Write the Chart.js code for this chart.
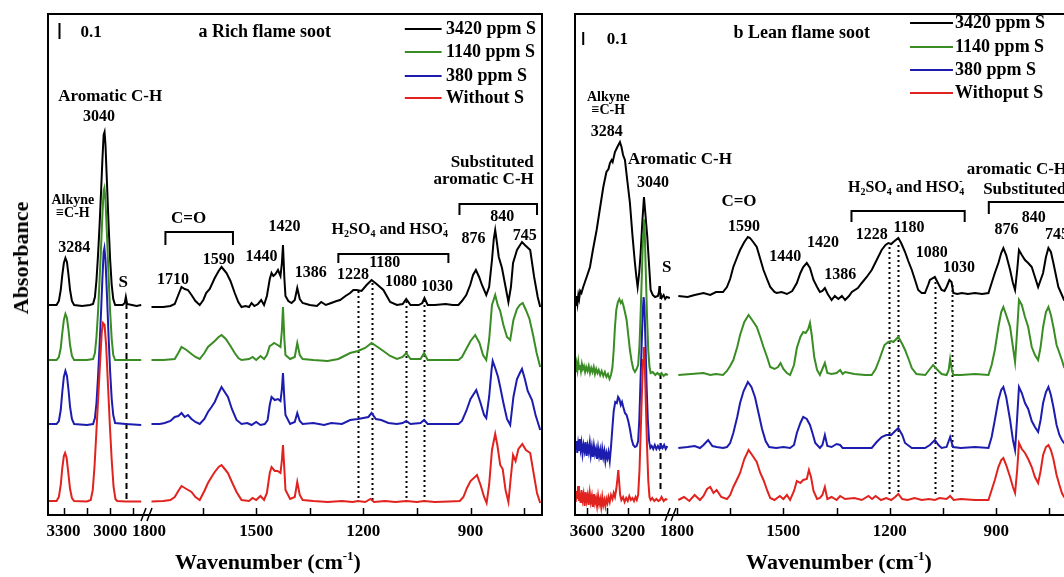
<!DOCTYPE html>
<html><head><meta charset="utf-8">
<script src="https://cdn.jsdelivr.net/npm/chart.js@4.4.1/dist/chart.umd.min.js"></script>
<style>
html,body{margin:0;padding:0;background:#fff;overflow:hidden;}
body{width:1064px;height:577px;position:relative;font-family:"Liberation Serif","Times New Roman",serif;}
canvas{position:absolute;top:0;}
.frame{position:absolute;box-sizing:border-box;border:2px solid #000;pointer-events:none;}
.xtitle{position:absolute;top:551px;font-weight:bold;font-size:22px;line-height:22px;white-space:nowrap;transform:translateX(-50%);}
.xtitle sup{font-size:13px;vertical-align:9px;line-height:0;}
.ytitle{position:absolute;left:21px;top:258px;font-weight:bold;font-size:22px;white-space:nowrap;transform:translate(-50%,-50%) rotate(-90deg);}
</style></head>
<body>
<canvas id="richHigh" width="230" height="577" style="left:0px"></canvas>
<canvas id="richLow" width="480" height="577" style="left:100px"></canvas>
<canvas id="leanHigh" width="260" height="577" style="left:520px"></canvas>
<canvas id="leanLow" width="470" height="577" style="left:620px"></canvas>
<div class="frame" style="left:47px;top:13px;width:496px;height:503px"></div>
<div class="frame" style="left:574px;top:13px;width:496px;height:503px"></div>
<div class="ytitle">Absorbance</div>
<div class="xtitle" style="left:268px">Wavenumber (cm<sup>-1</sup>)</div>
<div class="xtitle" style="left:839px">Wavenumber (cm<sup>-1</sup>)</div>
<script>
// ---------------- DATA ----------------
const seriesLabelsRich = ['3420 ppm S', '1140 ppm S', '380 ppm S', 'Without S'];
const seriesLabelsLean = ['3420 ppm S', '1140 ppm S', '380 ppm S', 'Withoput S'];

const richTicksHigh = [3300, 3150, 3000, 2850];
const richLabelsHigh = [3300, 3000];
const richTicksLow = [1800, 1650, 1500, 1350, 1200, 1050, 900, 750];
const richLabelsLow = [1800, 1500, 1200, 900];
const leanTicksHigh = [3600, 3400, 3200, 3000];
const leanLabelsHigh = [3600, 3200];
const leanTicksLow = [1800, 1650, 1500, 1350, 1200, 1050, 900, 750];
const leanLabelsLow = [1800, 1500, 1200, 900];

// (a) rich flame soot, 3400-2750 cm-1
const richHighS3420 = [[3400,21.0],[3370,21.0],[3345,21.0],[3330,21.4],[3318,22.5],[3308,24.0],[3298,25.2],[3288,25.7],[3278,25.3],[3268,24.0],[3258,22.5],[3246,21.4],[3232,21.0],[3180,20.9],[3130,21.0],[3110,21.1],[3098,21.8],[3088,23.5],[3078,26.0],[3068,29.0],[3058,32.5],[3050,35.5],[3042,38.0],[3036,38.3],[3030,37.0],[3020,33.0],[3010,29.0],[3000,25.5],[2990,23.0],[2980,21.6],[2968,21.0],[2920,21.0],[2906,21.2],[2899,21.8],[2891,21.1],[2860,21.0],[2830,20.9],[2800,21.0]];
const richHighS1140 = [[3400,15.5],[3360,15.5],[3345,15.5],[3330,15.8],[3318,16.7],[3308,18.2],[3298,19.5],[3288,20.1],[3278,19.7],[3268,18.5],[3258,17.0],[3246,15.9],[3232,15.5],[3150,15.5],[3110,15.6],[3098,16.2],[3088,17.8],[3078,20.3],[3068,23.5],[3058,27.0],[3050,30.0],[3042,32.4],[3037,32.7],[3030,31.5],[3020,27.8],[3010,23.8],[3000,20.3],[2990,17.6],[2980,16.0],[2968,15.5],[2900,15.5],[2800,15.5]];
const richHighS380 = [[3400,9.1],[3360,9.1],[3345,9.1],[3330,9.4],[3318,10.5],[3308,12.3],[3298,13.8],[3288,14.4],[3278,13.9],[3268,12.5],[3258,10.8],[3246,9.6],[3232,9.1],[3150,9.0],[3110,9.1],[3098,9.7],[3088,11.2],[3078,13.8],[3068,17.0],[3058,20.5],[3050,23.6],[3042,26.3],[3037,26.7],[3030,25.5],[3020,21.8],[3010,17.8],[3000,14.3],[2990,11.6],[2980,10.0],[2968,9.2],[2900,9.1],[2800,9.0]];
const richHighS0 = [[3400,1.4],[3360,1.4],[3345,1.4],[3330,1.8],[3318,3.0],[3308,4.7],[3298,5.9],[3290,6.2],[3280,5.7],[3270,4.3],[3258,2.6],[3246,1.7],[3232,1.4],[3150,1.35],[3125,1.5],[3112,2.5],[3100,5.0],[3088,8.5],[3076,12.0],[3064,15.5],[3054,18.3],[3046,19.2],[3036,19.0],[3026,17.0],[3014,13.0],[3002,9.0],[2990,5.5],[2978,2.8],[2966,1.6],[2955,1.4],[2900,1.35],[2800,1.35]];

// (a) rich flame soot, 1800-700 cm-1
const richLowS3420 = [[1793,20.8],[1760,20.8],[1740,20.9],[1728,21.1],[1718,22.0],[1709,22.8],[1700,22.6],[1691,22.5],[1681,22.0],[1670,21.4],[1658,21.0],[1648,21.5],[1640,22.2],[1630,22.6],[1616,23.7],[1605,24.4],[1597,24.8],[1590,24.5],[1583,24.2],[1572,23.4],[1560,22.2],[1550,21.3],[1541,20.8],[1530,20.9],[1520,20.8],[1513,21.2],[1505,20.9],[1495,21.1],[1486,21.5],[1478,21.0],[1470,21.9],[1462,23.6],[1457,24.2],[1452,23.9],[1446,24.1],[1439,24.5],[1432,23.9],[1428,25.2],[1425,27.0],[1421,23.6],[1418,21.9],[1410,21.4],[1401,21.2],[1392,21.5],[1385,22.7],[1378,21.6],[1370,21.2],[1350,21.0],[1330,20.9],[1318,21.3],[1305,21.0],[1290,21.2],[1275,21.4],[1265,21.5],[1250,21.9],[1237,22.2],[1228,22.5],[1219,22.5],[1205,22.4],[1191,23.0],[1177,23.5],[1163,23.1],[1144,22.5],[1125,21.3],[1106,21.0],[1090,21.1],[1080,21.6],[1068,21.0],[1045,21.0],[1035,21.2],[1029,21.7],[1020,21.0],[1000,21.0],[970,21.1],[950,21.0],[934,21.0],[924,21.4],[912,22.0],[901,23.0],[893,24.0],[885,24.5],[876,23.8],[868,23.0],[856,22.0],[848,22.8],[840,25.5],[835,27.6],[831,28.5],[826,27.2],[821,25.8],[812,24.7],[803,23.0],[794,21.3],[787,22.8],[781,25.2],[770,26.5],[756,27.3],[748,27.0],[742,26.8],[733,26.5],[722,23.8],[712,21.8],[705,20.8]];
const richLowS1140 = [[1793,15.5],[1760,15.5],[1728,15.6],[1718,16.2],[1709,16.8],[1695,16.5],[1681,16.1],[1670,15.8],[1658,15.6],[1645,16.2],[1635,16.8],[1616,17.4],[1605,17.8],[1597,18.0],[1585,17.6],[1572,16.9],[1560,16.2],[1550,15.7],[1541,15.5],[1520,15.6],[1510,15.8],[1500,15.5],[1488,15.9],[1478,15.6],[1470,16.0],[1462,16.9],[1457,17.0],[1450,17.2],[1440,17.0],[1432,16.8],[1428,18.5],[1425,20.8],[1421,17.5],[1418,16.0],[1405,15.6],[1392,15.8],[1385,17.2],[1378,16.0],[1370,15.6],[1340,15.5],[1300,15.4],[1270,15.6],[1237,16.2],[1215,16.4],[1195,16.7],[1177,17.2],[1160,16.8],[1144,16.4],[1125,15.9],[1106,15.6],[1090,15.8],[1080,16.2],[1068,15.6],[1040,15.6],[1030,16.2],[1020,15.5],[980,15.5],[934,15.5],[924,15.8],[912,16.6],[900,17.4],[887,18.0],[875,17.2],[865,16.0],[856,15.5],[848,17.5],[840,21.0],[831,22.0],[824,21.0],[817,20.4],[808,19.0],[798,17.8],[789,17.5],[780,19.5],[770,20.6],[762,21.0],[754,21.2],[745,20.5],[735,19.6],[725,18.0],[715,16.2],[705,14.8]];
const richLowS380 = [[1793,9.1],[1770,9.1],[1756,9.2],[1740,9.4],[1728,9.8],[1718,9.9],[1709,10.2],[1700,9.8],[1691,10.0],[1681,9.6],[1670,9.3],[1658,9.1],[1645,9.6],[1635,10.3],[1625,10.8],[1616,11.3],[1605,12.2],[1597,12.8],[1588,12.3],[1579,11.8],[1568,10.6],[1555,9.5],[1541,9.1],[1525,9.2],[1513,9.0],[1500,9.3],[1488,9.0],[1476,9.1],[1468,9.5],[1462,11.0],[1457,11.8],[1448,11.5],[1439,11.6],[1432,11.4],[1428,12.6],[1425,14.2],[1421,11.5],[1418,10.0],[1405,9.1],[1392,9.3],[1385,10.2],[1378,9.4],[1370,9.1],[1340,9.2],[1310,9.0],[1290,9.2],[1260,9.1],[1237,9.5],[1215,9.6],[1200,9.7],[1186,9.8],[1177,10.2],[1165,9.6],[1150,9.5],[1130,9.2],[1106,9.1],[1090,9.2],[1080,9.4],[1068,9.1],[1040,9.2],[1030,9.5],[1020,9.1],[980,9.1],[934,9.1],[924,9.4],[912,10.4],[900,11.6],[884,12.5],[872,11.2],[862,10.0],[856,9.7],[848,11.8],[841,14.6],[838,15.4],[830,14.6],[823,13.8],[817,12.8],[808,11.2],[798,9.6],[789,9.0],[780,11.8],[770,13.6],[762,14.2],[756,14.6],[748,13.6],[740,12.4],[728,11.5],[718,10.0],[705,8.5]];
const richLowS0 = [[1793,1.35],[1760,1.4],[1740,1.5],[1728,1.8],[1718,2.4],[1709,2.9],[1695,2.6],[1681,2.3],[1670,1.8],[1658,1.5],[1645,2.4],[1635,3.2],[1625,3.8],[1616,4.3],[1605,4.8],[1597,5.0],[1588,4.6],[1579,4.2],[1568,3.3],[1555,2.3],[1541,1.5],[1520,1.4],[1510,1.7],[1500,1.5],[1488,1.9],[1478,1.5],[1470,2.2],[1462,4.2],[1457,4.8],[1448,4.4],[1440,4.4],[1432,4.2],[1428,5.5],[1425,7.0],[1421,4.5],[1418,2.5],[1405,1.6],[1392,1.8],[1385,3.3],[1378,2.0],[1370,1.5],[1340,1.4],[1300,1.3],[1260,1.4],[1230,1.3],[1215,1.4],[1195,1.3],[1180,1.6],[1170,1.3],[1140,1.4],[1110,1.3],[1080,1.4],[1050,1.3],[1030,1.4],[1000,1.3],[960,1.35],[930,1.4],[920,1.8],[910,2.7],[900,3.4],[882,4.0],[872,3.0],[862,1.8],[855,1.2],[848,3.0],[840,6.5],[831,8.1],[825,7.0],[817,5.0],[810,4.6],[802,2.5],[794,1.3],[788,3.5],[781,6.0],[774,5.4],[766,6.6],[755,7.1],[745,6.5],[733,6.2],[725,4.5],[714,2.2],[705,1.2]];

// (b) lean flame soot, 3712-2770 cm-1
const leanHighS3420 = [[3712,21.5],[3702,21.0],[3695,21.9],[3688,21.2],[3680,22.0],[3672,21.6],[3662,22.4],[3650,22.2],[3633,22.8],[3600,23.8],[3568,24.8],[3540,26.5],[3504,28.5],[3470,30.8],[3440,32.8],[3410,34.3],[3390,34.6],[3376,35.2],[3360,35.5],[3350,35.3],[3328,36.3],[3305,36.8],[3280,37.3],[3265,36.8],[3250,36.0],[3232,35.5],[3210,33.5],[3184,31.2],[3160,28.0],[3136,25.2],[3122,23.8],[3110,22.8],[3095,24.2],[3081,26.2],[3065,29.3],[3049,31.8],[3033,29.8],[3017,27.8],[3000,25.0],[2985,22.5],[2965,22.0],[2943,21.8],[2915,21.9],[2905,22.3],[2900,22.9],[2895,22.3],[2880,21.7],[2860,22.0],[2845,21.6],[2831,21.8],[2800,21.7]];
const leanHighS1140 = [[3712,14.9],[3704,14.3],[3696,15.1],[3688,14.5],[3680,15.3],[3672,14.6],[3664,15.0],[3655,14.4],[3646,15.1],[3636,14.6],[3626,14.9],[3615,14.3],[3604,14.8],[3592,14.4],[3580,14.9],[3568,14.2],[3556,14.7],[3544,14.3],[3532,14.8],[3520,14.1],[3508,14.6],[3496,14.2],[3484,14.5],[3470,14.0],[3456,14.4],[3440,13.9],[3425,14.3],[3410,13.8],[3395,14.1],[3380,13.6],[3366,14.0],[3352,14.8],[3340,16.5],[3328,18.8],[3315,20.5],[3300,21.3],[3286,21.6],[3272,21.2],[3260,21.4],[3248,21.0],[3232,20.3],[3216,19.5],[3200,18.0],[3184,16.5],[3168,15.4],[3152,14.6],[3136,14.3],[3120,14.6],[3105,15.0],[3092,17.0],[3080,20.5],[3068,24.5],[3058,28.0],[3050,29.6],[3042,28.5],[3032,24.5],[3020,20.0],[3008,16.5],[2996,14.8],[2985,14.2],[2965,14.3],[2940,14.0],[2920,14.2],[2900,14.0],[2880,14.2],[2860,13.9],[2840,14.1],[2820,14.0]];
const leanHighS380 = [[3712,7.3],[3705,6.5],[3698,7.4],[3690,6.2],[3682,7.1],[3674,6.4],[3666,7.6],[3658,6.6],[3650,7.2],[3640,6.1],[3630,7.0],[3620,6.4],[3610,7.3],[3600,5.9],[3590,6.9],[3580,6.3],[3570,7.2],[3560,6.0],[3550,6.8],[3540,5.8],[3530,6.9],[3520,6.1],[3510,6.6],[3500,5.6],[3490,6.7],[3480,5.9],[3470,6.5],[3460,5.5],[3450,6.6],[3440,5.8],[3430,6.4],[3420,5.4],[3410,6.2],[3400,5.7],[3390,6.3],[3378,5.4],[3366,6.8],[3352,8.8],[3340,10.4],[3325,11.3],[3310,11.2],[3298,11.8],[3286,11.6],[3272,11.0],[3260,11.3],[3248,10.8],[3232,10.2],[3216,10.0],[3200,9.4],[3184,8.6],[3168,7.6],[3152,7.0],[3136,6.8],[3120,6.9],[3105,7.4],[3094,9.5],[3082,13.5],[3070,17.5],[3060,20.5],[3052,21.8],[3045,21.0],[3035,17.5],[3024,13.0],[3012,9.5],[3000,7.4],[2988,6.7],[2975,6.9],[2960,6.6],[2945,7.0],[2930,6.6],[2915,6.9],[2900,6.6],[2885,7.0],[2870,6.7],[2855,7.0],[2840,6.6],[2825,6.9]];
const leanHighS0 = [[3712,2.0],[3705,1.3],[3698,2.4],[3690,1.6],[3682,2.9],[3674,1.4],[3666,2.2],[3658,1.2],[3650,2.5],[3640,1.5],[3630,2.1],[3620,0.9],[3610,2.3],[3600,1.4],[3590,2.0],[3580,1.0],[3570,2.2],[3560,1.3],[3550,1.9],[3540,0.8],[3530,2.1],[3520,1.2],[3510,1.7],[3500,0.9],[3490,1.9],[3480,1.1],[3470,1.6],[3460,0.8],[3450,1.8],[3440,1.0],[3430,1.5],[3420,0.9],[3410,1.6],[3400,1.2],[3390,1.8],[3378,1.3],[3366,2.0],[3352,1.6],[3340,2.2],[3328,1.8],[3315,2.6],[3304,3.6],[3296,4.5],[3288,3.4],[3278,2.0],[3266,1.5],[3250,1.8],[3235,1.3],[3220,1.7],[3205,1.4],[3190,1.9],[3175,1.5],[3160,1.7],[3145,1.4],[3130,1.8],[3118,1.5],[3105,2.0],[3092,4.5],[3080,8.5],[3068,12.5],[3058,15.5],[3050,16.8],[3042,15.5],[3032,11.5],[3020,7.0],[3008,3.5],[2996,1.8],[2985,1.5],[2970,1.7],[2950,1.4],[2930,1.6],[2910,1.4],[2895,1.5],[2880,1.8],[2860,1.4],[2840,1.6],[2825,1.5]];

// (b) lean flame soot, 1811-695 cm-1
const leanLowS3420 = [[1796,21.9],[1770,21.8],[1750,22.0],[1725,22.2],[1706,22.0],[1690,22.3],[1670,22.3],[1659,22.8],[1650,23.6],[1641,24.8],[1630,25.8],[1622,26.5],[1610,27.3],[1600,27.8],[1594,27.7],[1585,27.3],[1575,26.8],[1565,25.6],[1556,24.5],[1545,23.5],[1537,22.8],[1525,22.3],[1519,22.2],[1505,22.3],[1490,22.1],[1475,22.4],[1462,23.2],[1452,24.2],[1444,24.8],[1434,25.2],[1425,24.7],[1415,23.5],[1405,22.8],[1397,22.3],[1390,22.4],[1383,22.7],[1375,22.1],[1364,21.5],[1355,21.9],[1345,21.6],[1335,21.9],[1326,21.5],[1315,21.9],[1307,22.3],[1290,22.7],[1279,23.2],[1265,23.8],[1251,24.5],[1237,25.5],[1223,26.5],[1212,27.0],[1204,27.2],[1196,27.1],[1190,27.3],[1176,27.7],[1168,27.2],[1157,26.3],[1148,25.4],[1138,24.5],[1128,23.4],[1120,22.5],[1110,22.2],[1101,22.2],[1092,23.0],[1087,23.5],[1073,23.8],[1063,23.1],[1054,22.5],[1046,22.4],[1040,22.8],[1032,23.5],[1026,23.3],[1021,22.2],[1010,22.1],[997,22.2],[980,22.1],[960,22.2],[940,22.1],[922,22.2],[913,23.2],[904,24.2],[894,25.2],[886,26.2],[880,26.7],[872,26.0],[861,24.5],[853,23.2],[847,22.5],[841,24.5],[836,26.5],[828,26.0],[819,25.5],[810,25.2],[800,24.8],[791,23.8],[782,22.8],[775,23.5],[768,24.2],[760,25.8],[753,26.7],[746,26.3],[739,25.2],[732,24.0],[725,22.8],[715,22.0],[709,21.5],[695,21.3]];
const leanLowS1140 = [[1796,14.0],[1760,14.1],[1725,14.2],[1706,14.0],[1690,14.1],[1670,14.0],[1659,14.4],[1650,14.9],[1641,15.5],[1630,16.8],[1622,18.0],[1610,19.3],[1598,20.0],[1588,19.5],[1575,18.8],[1565,17.8],[1556,16.8],[1545,15.7],[1537,14.8],[1525,14.6],[1515,14.8],[1508,15.2],[1500,14.6],[1490,14.2],[1481,14.0],[1470,15.0],[1462,16.7],[1452,17.8],[1444,18.3],[1437,18.2],[1430,18.6],[1425,19.2],[1420,18.0],[1413,15.8],[1405,14.5],[1397,14.0],[1390,14.6],[1383,15.2],[1376,14.2],[1364,14.1],[1350,14.2],[1340,14.5],[1333,14.1],[1326,14.3],[1300,14.1],[1270,14.0],[1251,14.0],[1240,14.6],[1230,15.5],[1215,17.0],[1204,17.3],[1196,17.4],[1190,17.3],[1176,17.8],[1165,17.1],[1157,16.5],[1145,15.4],[1138,14.7],[1125,14.1],[1100,14.0],[1087,14.6],[1078,15.0],[1068,14.6],[1054,14.1],[1040,14.0],[1034,14.5],[1030,15.6],[1025,14.5],[1021,14.0],[1000,14.0],[960,14.1],[922,14.0],[913,15.0],[904,16.5],[894,18.8],[886,20.3],[880,20.8],[872,20.0],[861,18.8],[853,16.8],[847,15.3],[841,18.5],[836,21.5],[828,21.0],[819,19.8],[810,18.8],[800,16.8],[791,16.0],[782,15.5],[775,16.8],[768,18.8],[760,20.3],[753,20.8],[746,20.0],[739,18.8],[730,17.0],[722,16.2],[715,15.5],[709,14.8],[695,14.2]];
const leanLowS380 = [[1796,6.7],[1770,6.8],[1750,6.9],[1735,6.7],[1725,7.0],[1712,7.5],[1700,6.9],[1688,6.8],[1670,6.7],[1659,6.8],[1650,7.2],[1641,8.2],[1630,9.8],[1622,11.2],[1612,12.4],[1600,13.3],[1590,12.8],[1580,11.8],[1570,10.2],[1560,8.6],[1550,7.4],[1540,6.8],[1520,6.7],[1500,6.8],[1481,6.7],[1470,7.0],[1462,8.2],[1452,9.2],[1444,9.8],[1434,9.6],[1425,9.0],[1418,8.2],[1410,7.2],[1397,6.7],[1390,7.0],[1383,8.0],[1376,6.9],[1364,6.8],[1350,7.1],[1340,7.0],[1333,6.7],[1300,6.7],[1251,6.7],[1237,7.3],[1223,7.8],[1210,8.0],[1196,8.0],[1185,8.4],[1176,8.7],[1165,8.0],[1157,7.2],[1138,6.7],[1101,6.7],[1087,7.0],[1073,7.5],[1063,7.0],[1054,6.7],[1040,6.8],[1030,7.8],[1022,6.8],[1000,6.7],[960,6.8],[922,6.7],[913,7.8],[904,9.5],[894,11.5],[886,12.5],[880,12.8],[872,11.8],[861,9.5],[853,7.5],[847,6.5],[841,9.8],[836,12.8],[828,12.2],[819,11.2],[810,10.6],[800,9.4],[791,8.8],[782,8.3],[775,9.5],[768,11.2],[760,12.3],[753,12.8],[746,12.0],[739,10.8],[730,9.0],[722,8.0],[715,7.5],[709,7.2],[695,7.0]];
const leanLowS0 = [[1796,1.5],[1780,1.8],[1765,1.4],[1750,2.0],[1735,1.5],[1725,1.9],[1715,2.6],[1706,2.8],[1697,2.2],[1688,2.5],[1675,1.8],[1659,1.6],[1650,2.0],[1641,2.8],[1630,3.6],[1622,4.2],[1610,5.6],[1598,6.5],[1588,6.0],[1575,5.3],[1565,4.2],[1556,3.5],[1545,2.4],[1537,1.7],[1525,1.5],[1510,1.9],[1500,1.6],[1490,2.0],[1481,1.5],[1470,2.4],[1462,3.4],[1452,3.2],[1444,3.5],[1434,3.6],[1428,4.5],[1422,3.8],[1415,2.4],[1405,1.6],[1397,1.7],[1390,2.0],[1383,2.8],[1376,1.6],[1364,1.8],[1350,1.5],[1340,1.9],[1326,1.6],[1300,1.7],[1279,1.5],[1260,1.9],[1250,1.6],[1240,1.9],[1225,1.5],[1210,1.7],[1196,1.5],[1185,1.8],[1176,2.1],[1165,1.6],[1150,1.5],[1130,1.7],[1110,1.5],[1090,1.6],[1073,1.5],[1060,1.7],[1040,1.6],[1030,1.9],[1020,1.5],[1000,1.6],[960,1.5],[922,1.5],[913,2.5],[904,3.5],[894,4.8],[886,5.5],[880,5.7],[872,5.0],[861,3.8],[853,2.8],[847,2.2],[841,4.5],[836,7.2],[828,6.6],[819,6.2],[810,5.6],[800,4.8],[791,3.8],[782,3.2],[775,4.4],[768,6.0],[760,6.8],[753,7.0],[746,6.5],[739,5.6],[730,4.0],[722,3.0],[715,2.2],[709,1.8],[695,1.6]];

// ---------------- STYLE / LAYOUT ----------------
const FONT = '"Liberation Serif", "Times New Roman", serif';
const COLORS = ['#000000', '#3a8c24', '#1c1cae', '#e0231f'];
const H2SO4 = [['H'], ['2', 'sub'], ['SO'], ['4', 'sub'], [' and HSO'], ['4', 'sub'], ['-', 'sup']];

function drawRich(ctx, parts, x, y, size, align) {
  const big = 'bold ' + size + 'px ' + FONT;
  const small = 'bold ' + Math.round(size * 0.62) + 'px ' + FONT;
  let total = 0, prevStart = 0;
  const items = [];
  parts.forEach(p => {
    const t = p[0], m = p[1];
    ctx.font = m ? small : big;
    const wd = ctx.measureText(t).width;
    if (m === 'sup') { items.push({ t, m, x: prevStart }); total = Math.max(total, prevStart + wd); }
    else { items.push({ t, m, x: total }); prevStart = total; total += wd; }
  });
  const x0 = align === 'right' ? x - total : align === 'left' ? x : x - total / 2;
  ctx.textAlign = 'left';
  ctx.textBaseline = 'middle';
  ctx.fillStyle = '#000';
  items.forEach(it => {
    ctx.font = it.m ? small : big;
    const dy = it.m === 'sub' ? size * 0.3 : it.m === 'sup' ? -size * 0.38 : 0;
    ctx.fillText(it.t, x0 + it.x, y + dy);
  });
}

function makeAnnot(a) {
  return {
    id: 'annot',
    beforeDatasetsDraw(chart) {
      const ctx = chart.ctx, xs = chart.scales.x, ys = chart.scales.y;
      ctx.save();
      (a.vlines || []).forEach(l => {
        ctx.strokeStyle = '#000';
        ctx.lineWidth = 2;
        ctx.setLineDash(l.dash);
        const px = Math.round(xs.getPixelForValue(l.w)) + 0.5;
        ctx.beginPath();
        ctx.moveTo(px, ys.getPixelForValue(l.v2));
        ctx.lineTo(px, ys.getPixelForValue(l.v1));
        ctx.stroke();
      });
      ctx.restore();
    },
    afterDatasetsDraw(chart) {
      const ctx = chart.ctx, xs = chart.scales.x, ys = chart.scales.y;
      ctx.save();
      ctx.strokeStyle = '#000';
      ctx.lineWidth = 2;
      ctx.setLineDash([]);
      (a.brackets || []).forEach(b => {
        const x1 = xs.getPixelForValue(b.w1), x2 = xs.getPixelForValue(b.w2);
        const y = ys.getPixelForValue(b.v), yd = ys.getPixelForValue(b.v - b.drop);
        ctx.beginPath();
        ctx.moveTo(x1, yd); ctx.lineTo(x1, y); ctx.lineTo(x2, y); ctx.lineTo(x2, yd);
        ctx.stroke();
      });
      if (a.scaleBar) {
        const px = xs.getPixelForValue(a.scaleBar.w);
        ctx.beginPath();
        ctx.moveTo(px, ys.getPixelForValue(a.scaleBar.v1));
        ctx.lineTo(px, ys.getPixelForValue(a.scaleBar.v2));
        ctx.stroke();
      }
      (a.texts || []).forEach(t => {
        const parts = t.rich || [[t.t]];
        drawRich(ctx, parts, xs.getPixelForValue(t.w), ys.getPixelForValue(t.v), t.size || 16, t.align || 'center');
      });
      if (a.legend) {
        const L = a.legend;
        chart.data.datasets.forEach((ds, i) => {
          const y = ys.getPixelForValue(L.rows[i]);
          ctx.strokeStyle = ds.borderColor;
          ctx.lineWidth = 2;
          ctx.beginPath();
          ctx.moveTo(xs.getPixelForValue(L.w1), y);
          ctx.lineTo(xs.getPixelForValue(L.w2), y);
          ctx.stroke();
          drawRich(ctx, [[ds.label]], xs.getPixelForValue(L.wt), y, L.size, 'left');
        });
      }
      ctx.restore();
    },
    afterDraw(chart) {
      const ctx = chart.ctx, xs = chart.scales.x, ca = chart.chartArea;
      ctx.save();
      ctx.strokeStyle = '#000';
      ctx.lineWidth = 1.5;
      xs.ticks.forEach(t => {
        const px = Math.round(xs.getPixelForValue(t.value)) + 0.5;
        if (px < ca.left + 4 || px > ca.right - 4) return;
        ctx.beginPath();
        ctx.moveTo(px, ca.bottom);
        ctx.lineTo(px, ca.bottom - 7);
        ctx.stroke();
      });
      if (a.breakMark) {
        const R = ca.right, B = ca.bottom;
        ctx.lineWidth = 1.5;
        ctx.beginPath();
        ctx.moveTo(R - 8, B + 6); ctx.lineTo(R - 3, B - 7);
        ctx.moveTo(R - 2, B + 6); ctx.lineTo(R + 3, B - 7);
        ctx.stroke();
      }
      ctx.restore();
    }
  };
}

function segment(id, cfg) {
  return new Chart(document.getElementById(id), {
    type: 'line',
    data: {
      datasets: cfg.series.map((s, i) => ({
        label: cfg.names[i],
        data: s.map(p => ({ x: p[0], y: p[1] })),
        borderColor: COLORS[i],
        borderWidth: 2,
        pointRadius: 0,
        tension: 0,
        fill: false,
        order: 3 - i
      }))
    },
    options: {
      responsive: false,
      animation: false,
      events: [],
      layout: { padding: cfg.pad },
      plugins: { legend: { display: false }, tooltip: { enabled: false } },
      scales: {
        x: {
          type: 'linear', reverse: true, min: cfg.xmin, max: cfg.xmax,
          afterBuildTicks: s => { s.ticks = cfg.tickMarks.map(v => ({ value: v })); },
          afterFit: s => { s.height = 30; s.paddingLeft = 0; s.paddingRight = 0; },
          grid: { display: false, drawTicks: false },
          border: { display: false },
          ticks: {
            autoSkip: false, maxRotation: 0, minRotation: 0, padding: 6, color: '#000',
            font: { family: FONT, size: 17, weight: 'bold' },
            callback: v => cfg.tickLabels.includes(v) ? String(v) : ''
          }
        },
        y: { display: false, min: 0, max: 50.1 }
      }
    },
    plugins: [makeAnnot(cfg.annot)]
  });
}

// ---------------- CHARTS ----------------
segment('richHigh', {
  names: seriesLabelsRich,
  series: [richHighS3420, richHighS1140, richHighS380, richHighS0],
  xmin: 2750, xmax: 3400, tickMarks: richTicksHigh, tickLabels: richLabelsHigh,
  pad: { left: 48, right: 81, top: 14, bottom: 32 },
  annot: {
    breakMark: true,
    scaleBar: { w: 3326, v1: 47.6, v2: 49.2 },
    vlines: [{ w: 2897, v1: 1.2, v2: 21.2, dash: [6, 4] }],
    texts: [
      { t: '0.1', w: 3122, v: 48.2, size: 17 },
      { t: 'Aromatic C-H', w: 3000, v: 41.8, size: 17 },
      { t: '3040', w: 3071, v: 39.8, size: 16 },
      { t: 'Alkyne', w: 3240, v: 31.5, size: 14 },
      { t: '\u2261C-H', w: 3240, v: 30.2, size: 14 },
      { t: '3284', w: 3231, v: 26.7, size: 16 },
      { t: 'S', w: 2916, v: 23.2, size: 17 }
    ]
  }
});

segment('richLow', {
  names: seriesLabelsRich,
  series: [richLowS3420, richLowS1140, richLowS380, richLowS0],
  xmin: 700, xmax: 1800, tickMarks: richTicksLow, tickLabels: richLabelsLow,
  pad: { left: 49, right: 38, top: 14, bottom: 32 },
  annot: {
    vlines: [
      { w: 1215, v1: 1.3, v2: 22.4, dash: [2, 3] },
      { w: 1177, v1: 1.3, v2: 23.2, dash: [2, 3] },
      { w: 1080, v1: 1.3, v2: 21.4, dash: [2, 3] },
      { w: 1030, v1: 1.3, v2: 21.5, dash: [2, 3] }
    ],
    brackets: [
      { w1: 1754, w2: 1565, v: 28.3, drop: 1.3 },
      { w1: 1270, w2: 962, v: 26.1, drop: 0.9 },
      { w1: 931, w2: 714, v: 31.1, drop: 1.1 }
    ],
    texts: [
      { t: 'a Rich flame soot', w: 1476, v: 48.3, size: 18 },
      { t: 'C=O', w: 1689, v: 29.6, size: 17 },
      { t: '1710', w: 1733, v: 23.5 },
      { t: '1590', w: 1605, v: 25.5 },
      { t: '1440', w: 1485, v: 25.8 },
      { t: '1420', w: 1421, v: 28.8 },
      { t: '1386', w: 1347, v: 24.2 },
      { rich: H2SO4, w: 1126, v: 28.5, size: 16 },
      { t: '1228', w: 1229, v: 24.0 },
      { t: '1180', w: 1140, v: 25.2 },
      { t: '1080', w: 1095, v: 23.3 },
      { t: '1030', w: 994, v: 22.8 },
      { t: '876', w: 892, v: 27.6 },
      { t: '840', w: 811, v: 29.8 },
      { t: '745', w: 748, v: 27.9 },
      { t: 'Substituted', w: 723, v: 35.2, size: 17, align: 'right' },
      { t: 'aromatic C-H', w: 723, v: 33.5, size: 17, align: 'right' }
    ],
    legend: { w1: 1084, w2: 981, wt: 969, rows: [48.6, 46.3, 43.9, 41.7], size: 18 }
  }
});

segment('leanHigh', {
  names: seriesLabelsLean,
  series: [leanHighS3420, leanHighS1140, leanHighS380, leanHighS0],
  xmin: 2770, xmax: 3712, tickMarks: leanTicksHigh, tickLabels: leanLabelsHigh,
  pad: { left: 55, right: 107, top: 14, bottom: 32 },
  annot: {
    breakMark: true,
    scaleBar: { w: 3633, v1: 47.0, v2: 48.3 },
    vlines: [{ w: 2895, v1: 2.2, v2: 22.2, dash: [6, 4] }],
    texts: [
      { t: '0.1', w: 3304, v: 47.5, size: 17 },
      { t: 'Alkyne', w: 3392, v: 41.8, size: 14 },
      { t: '\u2261C-H', w: 3392, v: 40.5, size: 14 },
      { t: '3284', w: 3408, v: 38.3, size: 16 },
      { t: 'Aromatic C-H', w: 2703, v: 35.5, size: 17 },
      { t: '3040', w: 2962, v: 33.2, size: 16 },
      { t: 'S', w: 2831, v: 24.7, size: 17 }
    ]
  }
});

segment('leanLow', {
  names: seriesLabelsLean,
  series: [leanLowS3420, leanLowS1140, leanLowS380, leanLowS0],
  xmin: 695, xmax: 1811, tickMarks: leanTicksLow, tickLabels: leanLabelsLow,
  pad: { left: 53, right: 21, top: 14, bottom: 32 },
  annot: {
    vlines: [
      { w: 1203, v1: 2.0, v2: 26.8, dash: [2, 3] },
      { w: 1176, v1: 2.0, v2: 27.0, dash: [2, 3] },
      { w: 1073, v1: 2.0, v2: 23.3, dash: [2, 3] },
      { w: 1026, v1: 2.0, v2: 23.0, dash: [2, 3] }
    ],
    brackets: [
      { w1: 1308, w2: 989, v: 30.4, drop: 1.1 },
      { w1: 921, w2: 695, v: 31.3, drop: 1.2 }
    ],
    texts: [
      { t: 'b Lean flame soot', w: 1448, v: 48.2, size: 18 },
      { t: 'C=O', w: 1625, v: 31.3, size: 17 },
      { t: '1590', w: 1611, v: 28.8 },
      { t: '1440', w: 1495, v: 25.8 },
      { t: '1420', w: 1388, v: 27.2 },
      { t: '1386', w: 1340, v: 24.0 },
      { rich: H2SO4, w: 1154, v: 32.7, size: 16 },
      { t: '1228', w: 1251, v: 28.0 },
      { t: '1180', w: 1146, v: 28.7 },
      { t: '1080', w: 1082, v: 26.2 },
      { t: '1030', w: 1005, v: 24.7 },
      { t: 'aromatic C-H', w: 983, v: 34.5, size: 17, align: 'left' },
      { t: 'Substituted', w: 937, v: 32.5, size: 17, align: 'left' },
      { t: '876', w: 871, v: 28.5 },
      { t: '840', w: 794, v: 29.7 },
      { t: '745', w: 729, v: 28.0 }
    ],
    legend: { w1: 1143, w2: 1022, wt: 1016, rows: [49.2, 46.8, 44.5, 42.2], size: 18 }
  }
});
</script>
</body></html>
